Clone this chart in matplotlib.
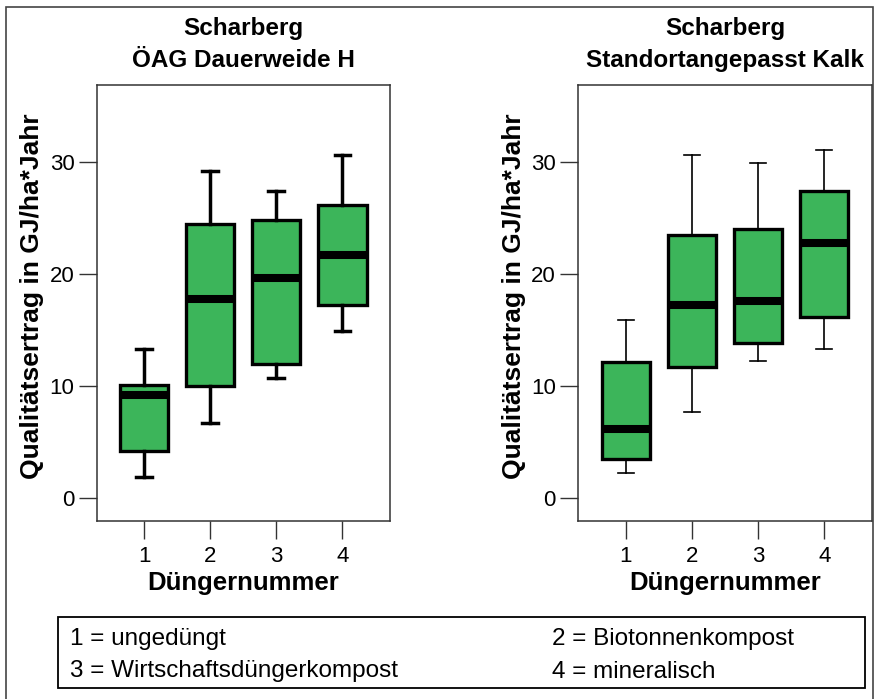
import matplotlib
matplotlib.use("Agg")
import matplotlib.pyplot as plt
from matplotlib.patches import Rectangle

plt.rcParams['font.family'] = ['Liberation Sans', 'DejaVu Sans']

# Daten
duenger = [1, 2, 3, 4]
titel = ["Scharberg\nÖAG Dauerweide H", "Scharberg\nStandortangepasst Kalk"]

# ÖAG Dauerweide H
links_whislo = [1.9, 6.75, 10.7, 14.9]
links_q1 = [4.2, 10.0, 12.0, 17.3]
links_med = [9.2, 17.8, 19.7, 21.75]
links_q3 = [10.1, 24.5, 24.85, 26.2]
links_whishi = [13.3, 29.2, 27.4, 30.65]

# Standortangepasst Kalk
rechts_whislo = [2.3, 7.7, 12.3, 13.3]
rechts_q1 = [3.5, 11.7, 13.9, 16.2]
rechts_med = [6.2, 17.3, 17.6, 22.8]
rechts_q3 = [12.2, 23.5, 24.0, 27.4]
rechts_whishi = [15.9, 30.65, 29.9, 31.1]

legende = ["1 = ungedüngt", "2 = Biotonnenkompost",
           "3 = Wirtschaftsdüngerkompost", "4 = mineralisch"]

gruen = '#3cb55a'


def make_stats(lo, q1, med, q3, hi):
    stats = []
    for i in range(len(duenger)):
        stats.append({'whislo': lo[i], 'q1': q1[i], 'med': med[i],
                      'q3': q3[i], 'whishi': hi[i], 'fliers': []})
    return stats


fig = plt.figure(figsize=(8.74, 6.99), dpi=100)

W, H = 874, 699
ax1 = fig.add_axes([96.7 / W, (H - 520.7) / H, 293.3 / W, 435.7 / H])
ax2 = fig.add_axes([578 / W, (H - 520.7) / H, 294 / W, 435.7 / H])

daten = [
    make_stats(links_whislo, links_q1, links_med, links_q3, links_whishi),
    make_stats(rechts_whislo, rechts_q1, rechts_med, rechts_q3, rechts_whishi),
]
whisker_lw = [2.5, 1.2]
ylabel_x = [32, 514]

for k, ax in enumerate([ax1, ax2]):
    ax.bxp(daten[k], positions=duenger, widths=0.73, patch_artist=True,
           showfliers=False,
           boxprops=dict(facecolor=gruen, edgecolor='black', linewidth=2.4),
           medianprops=dict(color='black', linewidth=5.8),
           whiskerprops=dict(color='black', linewidth=whisker_lw[k]),
           capprops=dict(color='black', linewidth=whisker_lw[k]),
           capwidths=0.24)
    ax.set_xlim(0.28, 4.72)
    ax.set_ylim(-2, 36.9)
    ax.set_yticks([0, 10, 20, 30])
    ax.set_xticks(duenger)
    ax.set_xticklabels([str(d) for d in duenger])
    ax.tick_params(axis='both', direction='out', length=13, width=1,
                   color='#333333', labelsize=16, pad=3)
    ax.tick_params(axis='x', pad=5)
    for s in ax.spines.values():
        s.set_color('#333333')
        s.set_linewidth(1.1)
    ax.set_title(titel[k], fontsize=17.5, fontweight='bold', pad=13,
                 linespacing=1.5)
    ax.set_xlabel("Düngernummer", fontsize=18.5, fontweight='bold',
                  labelpad=3)
    fig.text(ylabel_x[k] / W, 1 - 296.5 / H, "Qualitätsertrag in GJ/ha*Jahr",
             rotation=90, ha='center', va='center', fontsize=19,
             fontweight='bold')

# Rahmen um alles
fig.add_artist(Rectangle((6 / W, -0.01), 867 / W, 1.01 - 7 / H,
                         transform=fig.transFigure, fill=False,
                         edgecolor='#444444', linewidth=1.2))

# Legende
fig.add_artist(Rectangle((58.3 / W, 1 - 688 / H), (865 - 58.3) / W, 71 / H,
                         transform=fig.transFigure, fill=False,
                         edgecolor='black', linewidth=1.3))
leg_x = [70, 552]
leg_y = [639.5, 671.5]
for i, txt in enumerate(legende):
    fig.text(leg_x[i % 2] / W, 1 - leg_y[i // 2] / H, txt,
             ha='left', va='center', fontsize=17.5)

fig.savefig("out.png", dpi=100)
